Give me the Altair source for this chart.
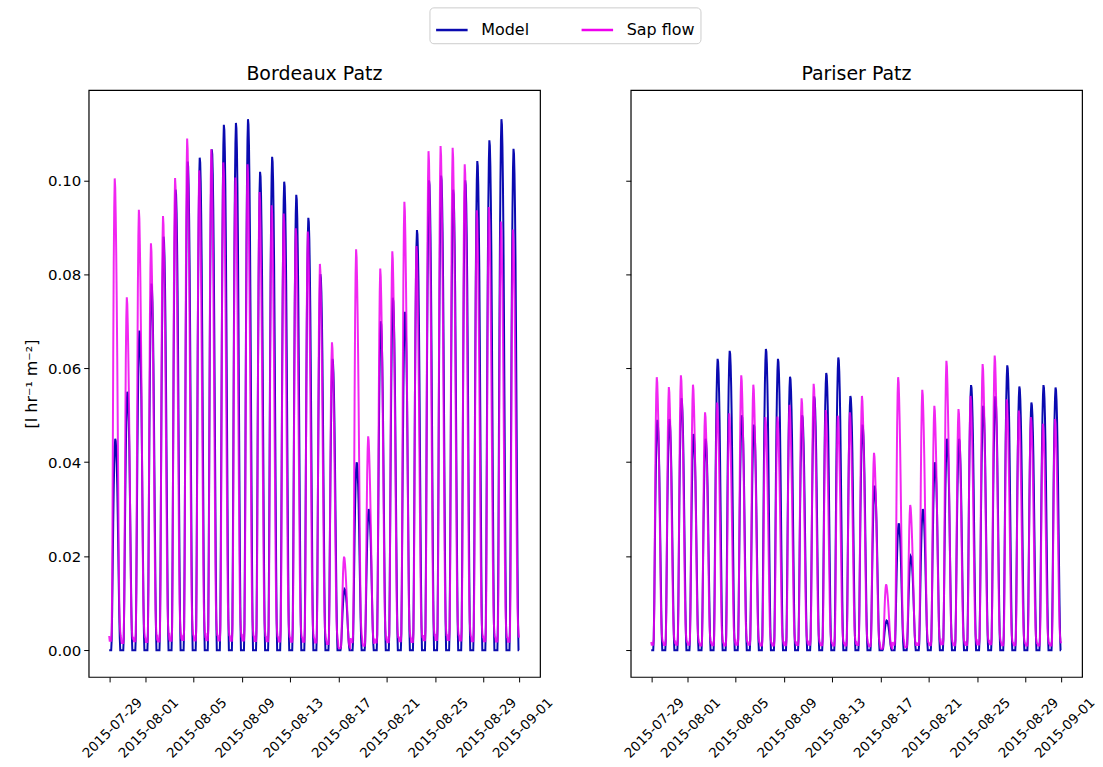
import altair as alt
import pandas as pd

# ---- data -----------------------------------------------------------------
day_starts = pd.date_range("2015-07-29", "2015-08-31", freq="D")

# daily peak values [l hr-1 m-2]
model_bordeaux = [0.045, 0.055, 0.068, 0.078, 0.088, 0.098, 0.104, 0.1048, 0.1066, 0.1118,
                  0.1122, 0.1130, 0.1018, 0.1050, 0.0997, 0.0969, 0.0920, 0.080, 0.062, 0.013,
                  0.040, 0.030, 0.070, 0.075, 0.072, 0.0894, 0.100, 0.101, 0.098, 0.100,
                  0.1041, 0.1085, 0.1130, 0.1067]
sap_bordeaux = [0.1004, 0.0751, 0.0937, 0.0866, 0.0924, 0.1005, 0.1089, 0.1021, 0.1066, 0.1038,
                0.1006, 0.1034, 0.0975, 0.0947, 0.0929, 0.0898, 0.0891, 0.0822, 0.0655, 0.0199,
                0.0853, 0.0455, 0.0812, 0.0849, 0.0954, 0.0860, 0.1062, 0.1073, 0.1069, 0.1034,
                0.0936, 0.0943, 0.0912, 0.0895]
model_pariser = [0.049, 0.0492, 0.0536, 0.046, 0.045, 0.062, 0.0637, 0.050, 0.048, 0.0641,
                 0.062, 0.0582, 0.050, 0.054, 0.059, 0.0623, 0.0541, 0.048, 0.035, 0.0063,
                 0.027, 0.020, 0.030, 0.040, 0.045, 0.045, 0.0564, 0.052, 0.054, 0.0606,
                 0.0561, 0.0527, 0.0564, 0.0559]
sap_pariser = [0.0581, 0.056, 0.0585, 0.0565, 0.0506, 0.0527, 0.0504, 0.0585, 0.0565, 0.0496,
               0.0497, 0.0522, 0.0536, 0.0567, 0.0511, 0.0499, 0.0506, 0.0541, 0.042, 0.014,
               0.0581, 0.0309, 0.0554, 0.052, 0.0616, 0.0513, 0.0541, 0.0609, 0.0627, 0.0534,
               0.051, 0.0496, 0.0482, 0.0492]

# hourly course of a day, as share of that day's peak (hours 0..23)
model_hourly = [0, 0, 0, 0, 0, 0.05, 0.20, 0.40, 0.60, 0.76, 0.88, 0.96,
                1.0, 0.99, 0.95, 0.88, 0.78, 0.64, 0.48, 0.32, 0.17, 0.06, 0, 0]
sap_hourly = [0.03, 0.02, 0.02, 0.02, 0.02, 0.04, 0.15, 0.38, 0.62, 0.82, 0.94, 1.0,
              0.98, 0.92, 0.84, 0.74, 0.62, 0.48, 0.34, 0.20, 0.10, 0.06, 0.04, 0.03]

tick_dates = [(7, 29), (8, 1), (8, 5), (8, 9), (8, 13), (8, 17), (8, 21), (8, 25), (8, 29), (9, 1)]
y_ticks = [0.0, 0.02, 0.04, 0.06, 0.08, 0.10]
series_names = ["Model", "Sap flow"]
series_colors = ["#0a0ab0", "#ee00ee"]


def build(peaks, hourly, name):
    rows = []
    for d, p in zip(day_starts, peaks):
        for h, f in enumerate(hourly):
            t = d + pd.Timedelta(hours=h)
            rows.append({"time": t.strftime("%Y-%m-%dT%H:%M:%S"), "value": p * f, "series": name})
    return rows


df_b = pd.DataFrame(build(model_bordeaux, model_hourly, "Model") + build(sap_bordeaux, sap_hourly, "Sap flow"))
df_p = pd.DataFrame(build(model_pariser, model_hourly, "Model") + build(sap_pariser, sap_hourly, "Sap flow"))

x_dom = [alt.DateTime(year=2015, month=7, date=27, hours=7, minutes=12),
         alt.DateTime(year=2015, month=9, date=2, hours=16, minutes=48)]
tick_vals = [alt.DateTime(year=2015, month=m, date=d) for m, d in tick_dates]

color_scale = alt.Scale(domain=series_names, range=series_colors)


def panel(df, title, first):
    yaxis_kw = dict(values=y_ticks, format=".2f", grid=False, domain=False, tickColor="black",
                    tickSize=5, labelFontSize=15, labelColor="black", labelPadding=3)
    if first:
        yaxis_kw.update(title="[l hr⁻¹ m⁻²]", titleFontSize=16, titleFontWeight="normal",
                        titleColor="black", titlePadding=8)
    else:
        yaxis_kw.update(labels=False, title=None)
    base = alt.Chart(df).encode(
        x=alt.X("time:T", scale=alt.Scale(domain=x_dom),
                axis=alt.Axis(values=tick_vals, format="%Y-%m-%d", labelAngle=-45,
                              labelAlign="center", labelBaseline="middle", labelPadding=46,
                              labelOffset=3, labelFontSize=13.5, labelColor="black",
                              tickColor="black", tickSize=5, grid=False, domain=False,
                              title=None, labelOverlap=False, labelFlush=False)),
        y=alt.Y("value:Q", scale=alt.Scale(domain=[-0.0057, 0.1192], nice=False, zero=False),
                axis=alt.Axis(**yaxis_kw)),
        color=alt.Color("series:N", scale=color_scale,
                        legend=alt.Legend(orient="none", legendX=342, legendY=-83,
                                          direction="horizontal", title=None,
                                          symbolType="stroke", symbolSize=1000,
                                          symbolStrokeWidth=2.5, labelFontSize=16,
                                          labelOffset=12, labelColor="black",
                                          strokeColor="#cccccc", fillColor="white",
                                          padding=5, cornerRadius=4, columnPadding=46,
                                          symbolOpacity=1)),
    )
    model = base.transform_filter(alt.datum.series == "Model").mark_line(strokeWidth=2)
    sap = base.transform_filter(alt.datum.series == "Sap flow").mark_line(strokeWidth=2, opacity=0.85)
    return alt.layer(model, sap).properties(
        width=453, height=589,
        title=alt.TitleParams(title, fontSize=19, fontWeight="normal", color="black", offset=6),
    )


chart = alt.hconcat(
    panel(df_b, "Bordeaux Patz", True),
    panel(df_p, "Pariser Patz", False),
    spacing=91, bounds="flush",
).resolve_scale(color="shared").properties(
    padding={"left": 23, "top": 5, "right": 5, "bottom": 5}
).configure(font="DejaVu Sans").configure_view(stroke="black", strokeWidth=1.2)

chart.save("out.html", embed_options={"renderer": "svg", "actions": False})
